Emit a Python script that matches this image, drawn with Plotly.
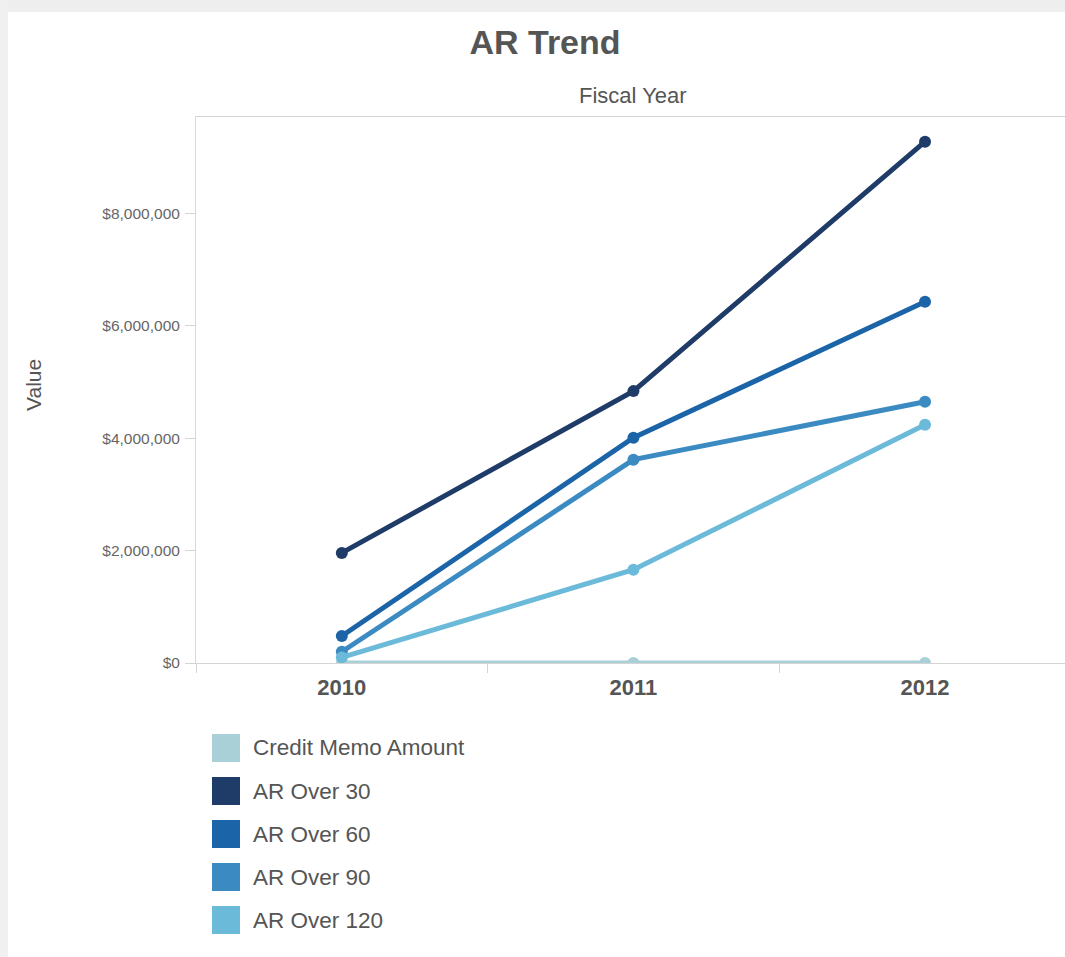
import plotly.graph_objects as go

# ---- data ----
years = ["2010", "2011", "2012"]
series_names = ["Credit Memo Amount", "AR Over 30", "AR Over 60", "AR Over 90", "AR Over 120"]
credit_memo = [0, 0, 0]
ar_over_30 = [1960000, 4840000, 9280000]
ar_over_60 = [480000, 4010000, 6430000]
ar_over_90 = [200000, 3620000, 4650000]
ar_over_120 = [100000, 1660000, 4240000]
series_values = [credit_memo, ar_over_30, ar_over_60, ar_over_90, ar_over_120]
colors = ["#a9cfd7", "#1f3b68", "#1c64a8", "#3b8bc2", "#6bbad9"]
y_ticks = [0, 2000000, 4000000, 6000000, 8000000]

# ---- layout geometry (pixels) ----
W, H = 1065, 957
L, R, T, B = 196, 0, 117, 294
PW, PH = W - L - R, H - T - B


def px_x(p):
    return (p - L) / PW


def px_y(p):
    return (H - B - p) / PH


FONT = "Liberation Sans, Arial, sans-serif"
fig = go.Figure()

for name, vals, col in zip(series_names, series_values, colors):
    fig.add_trace(go.Scatter(
        x=years, y=vals, name=name, mode="lines+markers",
        line=dict(color=col, width=5),
        marker=dict(color=col, size=12),
        showlegend=False,
    ))

shapes = [
    dict(type="rect", xref="paper", yref="paper", x0=px_x(0), x1=px_x(W), y0=px_y(0), y1=px_y(12),
         fillcolor="#eeeeee", line=dict(width=0), layer="below"),
    dict(type="rect", xref="paper", yref="paper", x0=px_x(0), x1=px_x(8), y0=px_y(0), y1=px_y(H),
         fillcolor="#f0f0f0", line=dict(width=0), layer="below"),
]
annotations = [
    dict(text="Fiscal Year", xref="paper", yref="paper", x=px_x(633), y=px_y(96),
         showarrow=False, xanchor="center", yanchor="middle",
         font=dict(family=FONT, size=22, color="#555555")),
    dict(text="Value", xref="paper", yref="paper", x=px_x(33), y=px_y(385), textangle=-90,
         showarrow=False, xanchor="center", yanchor="middle",
         font=dict(family=FONT, size=21, color="#555555")),
]

# legend (swatches + labels) built from the series lists
row0, step, sw = 748, 43, 28
for i, (name, col) in enumerate(zip(series_names, colors)):
    cy = row0 + i * step
    shapes.append(dict(type="rect", xref="paper", yref="paper",
                       x0=px_x(212), x1=px_x(212 + sw), y0=px_y(cy + sw / 2), y1=px_y(cy - sw / 2),
                       fillcolor=col, line=dict(width=0)))
    annotations.append(dict(text=name, xref="paper", yref="paper", x=px_x(251), y=px_y(cy),
                            showarrow=False, xanchor="left", yanchor="middle",
                            font=dict(family=FONT, size=22.5, color="#555555")))

fig.update_layout(
    width=W, height=H,
    margin=dict(l=L, r=R, t=T, b=B, pad=0),
    paper_bgcolor="white", plot_bgcolor="white",
    title=dict(text="<b>AR Trend</b>", xref="container", yref="container",
               x=545 / W, y=1 - 42 / H, xanchor="center", yanchor="middle",
               font=dict(family=FONT, size=34, color="#555555")),
    showlegend=False,
    shapes=shapes,
    annotations=annotations,
    font=dict(family=FONT),
)

fig.update_xaxes(
    type="category", range=[-0.5, 2.48],
    showgrid=False, zeroline=False,
    showline=True, linecolor="#d4d4d4", linewidth=1, mirror=True,
    ticks="outside", tickson="boundaries", ticklen=9, tickcolor="#d4d4d4",
    ticklabelstandoff=5,
    tickfont=dict(family=FONT, size=22, color="#555555", weight="bold"),
    fixedrange=True,
)
fig.update_yaxes(
    range=[0, 9720000],
    tickvals=y_ticks, tickformat="$,.0f",
    showgrid=False, zeroline=False,
    showline=True, linecolor="#d9d9d9", linewidth=1, mirror=False,
    ticks="outside", ticklen=10, tickcolor="#d4d4d4",
    ticklabelstandoff=2,
    tickfont=dict(family=FONT, size=15.5, color="#666666"),
    fixedrange=True,
)

fig.write_html("out.html", config={"displayModeBar": False},
               post_script="document.body.style.margin='0';")
